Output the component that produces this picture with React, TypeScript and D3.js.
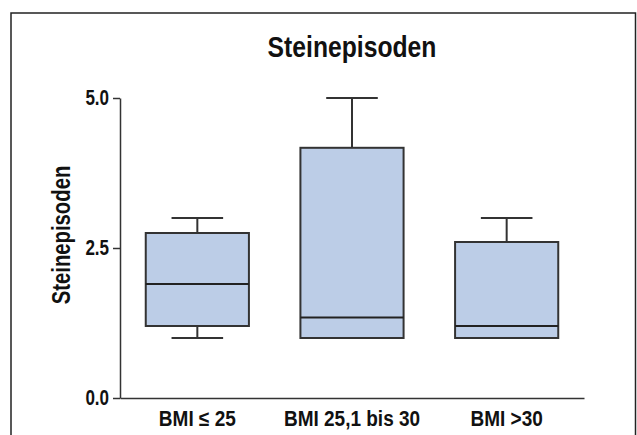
import React, { useEffect, useRef } from "react";
import * as d3 from "d3";

// box plot summaries
const groups = ["BMI \u2264 25", "BMI 25,1 bis 30", "BMI >30"];
const mins = [1, 1, 1];
const q1s = [1.2, 1, 1];
const medians = [1.9, 1.34, 1.2];
const q3s = [2.75, 4.17, 2.6];
const maxs = [3, 5, 3];
const yTicks = [0, 2.5, 5];

const title = "Steinepisoden";
const yLabel = "Steinepisoden";

const App = () => {
  const svgRef = useRef<SVGSVGElement>(null);

  useEffect(() => {
    const width = 637;
    const height = 435;
    // plot area
    const left = 120;
    const right = 584;
    const top = 98;
    const bottom = 398;

    const svg = d3.select(svgRef.current).attr("width", width).attr("height", height);
    svg.selectAll("*").remove();

    const font = "'Liberation Sans', Arial, sans-serif";
    const stroke = "#333";

    // outer frame (bottom edge is cut off by the picture)
    svg
      .append("rect")
      .attr("x", 11)
      .attr("y", 13)
      .attr("width", 624.5)
      .attr("height", 440)
      .attr("fill", "none")
      .attr("stroke", "#222")
      .attr("stroke-width", 1.5);

    const x = d3.scaleBand().domain(groups).range([left, right]).padding(0);
    const y = d3.scaleLinear().domain([0, 5]).range([bottom, top]);

    // ---- axes
    const yAxis = svg
      .append("g")
      .attr("transform", `translate(${left},0)`)
      .call(
        d3
          .axisLeft(y)
          .tickValues(yTicks)
          .tickFormat(d3.format(".1f"))
          .tickSize(7)
          .tickSizeOuter(0)
      );
    yAxis.select(".domain").attr("stroke", stroke).attr("stroke-width", 1.5);
    yAxis.selectAll(".tick line").attr("stroke", stroke).attr("stroke-width", 1.5);
    yAxis
      .selectAll(".tick text")
      .attr("fill", "#111")
      .attr("font-family", font)
      .attr("font-weight", "bold")
      .attr("font-size", 17)
      .attr("x", -11)
      .attr("transform", "scale(1,1.25)");

    const xAxis = svg
      .append("g")
      .attr("transform", `translate(0,${bottom})`)
      .call(d3.axisBottom(x).tickSize(0).tickSizeOuter(0));
    xAxis.select(".domain").attr("stroke", stroke).attr("stroke-width", 1.5);
    xAxis
      .selectAll(".tick text")
      .attr("fill", "#111")
      .attr("font-family", font)
      .attr("font-weight", "bold")
      .attr("font-size", 19)
      .attr("y", 0)
      .attr("dy", 0)
      .attr("transform", "translate(0,27.7) scale(1,1.15)");

    // ---- boxes
    const boxW = x.bandwidth() * 0.667;
    const capW = boxW / 2;
    const boxes = svg
      .selectAll(".box")
      .data(groups.map((g, i) => ({ g, i })))
      .join("g")
      .attr("class", "box")
      .attr("transform", d => `translate(${x(d.g)! + x.bandwidth() / 2},0)`);

    // whiskers
    boxes
      .append("line")
      .attr("x1", 0)
      .attr("x2", 0)
      .attr("y1", d => y(q3s[d.i]))
      .attr("y2", d => y(maxs[d.i]))
      .attr("stroke", stroke)
      .attr("stroke-width", 2);
    boxes
      .append("line")
      .attr("x1", 0)
      .attr("x2", 0)
      .attr("y1", d => y(q1s[d.i]))
      .attr("y2", d => y(mins[d.i]))
      .attr("stroke", stroke)
      .attr("stroke-width", 2);
    boxes
      .append("line")
      .attr("x1", -capW / 2)
      .attr("x2", capW / 2)
      .attr("y1", d => y(maxs[d.i]))
      .attr("y2", d => y(maxs[d.i]))
      .attr("stroke", stroke)
      .attr("stroke-width", 2);
    boxes
      .filter(d => mins[d.i] < q1s[d.i])
      .append("line")
      .attr("x1", -capW / 2)
      .attr("x2", capW / 2)
      .attr("y1", d => y(mins[d.i]))
      .attr("y2", d => y(mins[d.i]))
      .attr("stroke", stroke)
      .attr("stroke-width", 2);

    boxes
      .append("rect")
      .attr("x", -boxW / 2)
      .attr("width", boxW)
      .attr("y", d => y(q3s[d.i]))
      .attr("height", d => y(q1s[d.i]) - y(q3s[d.i]))
      .attr("fill", "#bccde7")
      .attr("stroke", stroke)
      .attr("stroke-width", 2);

    boxes
      .append("line")
      .attr("x1", -boxW / 2)
      .attr("x2", boxW / 2)
      .attr("y1", d => y(medians[d.i]))
      .attr("y2", d => y(medians[d.i]))
      .attr("stroke", "#222")
      .attr("stroke-width", 2);

    // ---- title and y label
    svg
      .append("text")
      .attr("transform", `translate(${(left + right) / 2},56.7) scale(1,1.22)`)
      .attr("text-anchor", "middle")
      .attr("font-family", font)
      .attr("font-weight", "bold")
      .attr("font-size", 24.7)
      .attr("fill", "#111")
      .text(title);

    svg
      .append("text")
      .attr("transform", `translate(70,235) rotate(-90) scale(1,1.3)`)
      .attr("text-anchor", "middle")
      .attr("font-family", font)
      .attr("font-weight", "bold")
      .attr("font-size", 20.3)
      .attr("fill", "#111")
      .text(yLabel);
  }, []);

  return (
    <svg
      ref={svgRef}
      style={{ position: "absolute", left: 0, top: 0, background: "#fff" }}
    />
  );
};

export default App;
